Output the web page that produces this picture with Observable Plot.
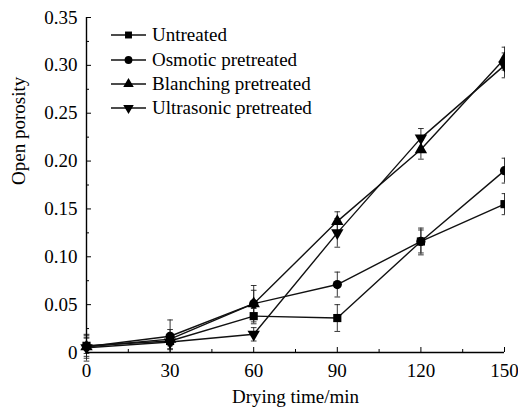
<!DOCTYPE html>
<html>
<head>
<meta charset="utf-8">
<script src="https://cdn.jsdelivr.net/npm/d3@7"></script>
<script src="https://cdn.jsdelivr.net/npm/@observablehq/plot@0.6"></script>
<style>
  html, body { margin: 0; padding: 0; background: #fff; }
  #wrap { position: relative; width: 518px; height: 407px; font-family: "Liberation Serif", "Times New Roman", serif; }
  #legend { position: absolute; left: 110px; top: 23px; font-size: 19px; color: #000; }
  .row { display: flex; align-items: center; height: 24.4px; }
  .row svg { margin-right: 5px; }
  #edge { position: absolute; left: 505px; top: 0; width: 13px; height: 349px; background: #fff; }
</style>
</head>
<body>
<div id="wrap"></div>
<script>
// Drying time (min)
const times = [0, 30, 60, 90, 120, 150];
const seriesNames = ["Untreated", "Osmotic pretreated", "Blanching pretreated", "Ultrasonic pretreated"];
// Open porosity values
const untreated = [0.007, 0.012, 0.038, 0.036, 0.116, 0.155];
const osmotic   = [0.006, 0.017, 0.051, 0.071, 0.116, 0.190];
const blanching = [0.006, 0.014, 0.051, 0.137, 0.212, 0.307];
const ultrasonic= [0.005, 0.011, 0.019, 0.125, 0.224, 0.300];
// Error (± standard deviation)
const untreatedErr = [0.008, 0.005, 0.008, 0.014, 0.012, 0.011];
const osmoticErr   = [0.010, 0.017, 0.019, 0.013, 0.014, 0.013];
const blanchingErr = [0.012, 0.010, 0.014, 0.010, 0.010, 0.012];
const ultrasonicErr= [0.014, 0.008, 0.007, 0.015, 0.010, 0.013];
// Axis ticks
const xTicks = [0, 30, 60, 90, 120, 150];
const xMinor = [15, 45, 75, 105, 135];
const yTicks = [0, 0.05, 0.10, 0.15, 0.20, 0.25, 0.30, 0.35];
const yMinor = [0.025, 0.075, 0.125, 0.175, 0.225, 0.275, 0.325];

const values = [untreated, osmotic, blanching, ultrasonic];
const errs = [untreatedErr, osmoticErr, blanchingErr, ultrasonicErr];
const symbols = ["square", "circle", "triangle", "triangle"];
const rotations = [0, 0, 0, 180];

const data = [];
seriesNames.forEach((s, i) => {
  times.forEach((t, j) => {
    data.push({series: s, idx: i, time: t, value: values[i][j], err: errs[i][j]});
  });
});

const capSymbol = {
  draw(ctx, size) {
    const r = Math.sqrt(size) / 2;
    ctx.moveTo(-r, 0);
    ctx.lineTo(r, 0);
  }
};

const fmt = d => d === 0 ? "0" : d.toFixed(2);

const plot = Plot.plot({
  width: 518,
  height: 407,
  marginLeft: 86,
  marginRight: 14,
  marginTop: 17,
  marginBottom: 55,
  style: {fontFamily: "'Liberation Serif', 'Times New Roman', serif", fontSize: "19px", color: "#000", background: "#fff"},
  x: {domain: [0, 150]},
  y: {domain: [0, 0.35]},
  marks: [
    Plot.ruleX(data, {x: "time", y1: d => d.value - d.err, y2: d => d.value + d.err, stroke: "#222", strokeWidth: 0.9}),
    Plot.dot(data, {x: "time", y: d => d.value - d.err, symbol: capSymbol, r: 3.2, stroke: "#222", strokeWidth: 0.9, fill: "none"}),
    Plot.dot(data, {x: "time", y: d => d.value + d.err, symbol: capSymbol, r: 3.2, stroke: "#222", strokeWidth: 0.9, fill: "none"}),
    Plot.line(data, {x: "time", y: "value", z: "series", stroke: "#111", strokeWidth: 1.4}),
    ...seriesNames.map((s, i) => Plot.dot(data.filter(d => d.idx === i), {
      x: "time", y: "value", symbol: symbols[i], rotate: rotations[i], r: 4.6, fill: "#000", stroke: "none"
    })),
    Plot.ruleX([0], {stroke: "#000", strokeWidth: 1.4}),
    Plot.ruleY([0], {stroke: "#000", strokeWidth: 1.4}),
    Plot.axisY({ticks: yTicks, tickSize: -5, tickPadding: 14, tickFormat: fmt, label: null, fontSize: 19}),
    Plot.axisY({ticks: yMinor, tickSize: -3, tickFormat: () => "", label: null}),
    Plot.axisX({ticks: xTicks, tickSize: -5, tickPadding: 16, tickFormat: d => String(d), label: null, fontSize: 19}),
    Plot.axisX({ticks: xMinor, tickSize: -3, tickFormat: () => "", label: null}),
    Plot.text(["Drying time/min"], {frameAnchor: "bottom", dy: 50, fontSize: 19, text: d => d}),
    Plot.text(["Open porosity"], {frameAnchor: "left", dx: -68, rotate: -90, fontSize: 19, text: d => d})
  ]
});

const wrap = document.getElementById("wrap");
wrap.appendChild(plot);

// The reference image is cropped just right of the x = 150 data column
const edge = document.createElement("div");
edge.id = "edge";
wrap.appendChild(edge);

// Legend
const legend = document.createElement("div");
legend.id = "legend";
const symbolPaths = [
  d3.symbol(d3.symbolSquare, 4.6 * 4.6 * Math.PI)(),
  d3.symbol(d3.symbolCircle, 4.6 * 4.6 * Math.PI)(),
  d3.symbol(d3.symbolTriangle, 4.6 * 4.6 * Math.PI)(),
  d3.symbol(d3.symbolTriangle, 4.6 * 4.6 * Math.PI)()
];
seriesNames.forEach((s, i) => {
  const row = document.createElement("div");
  row.className = "row";
  row.innerHTML = `<svg width="37" height="14" viewBox="-18.5 -7 37 14"><line x1="-17.5" x2="17.5" y1="0" y2="0" stroke="#111" stroke-width="1.4"/><path d="${symbolPaths[i]}" fill="#000" transform="scale(0.85) rotate(${rotations[i]})"/></svg><span>${s}</span>`;
  legend.appendChild(row);
});
wrap.appendChild(legend);
</script>
</body>
</html>
